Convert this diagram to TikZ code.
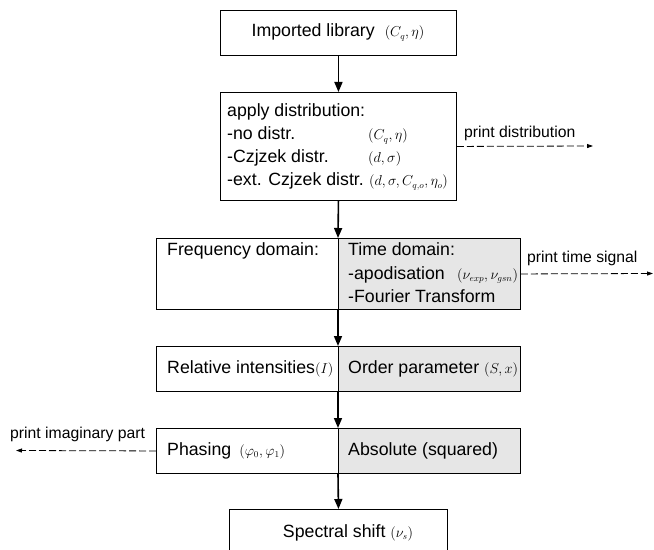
\documentclass[tikz,border=0pt]{standalone}
\usepackage{fontspec}
\setmainfont{Liberation Sans}
\usetikzlibrary{arrows.meta}
\definecolor{panelgray}{HTML}{E6E6E6}
\newcommand\mth[1]{{\fontsize{13.5}{16}\selectfont$#1$}}
\tikzset{
  box/.style={draw, line width=0.9bp, inner sep=0pt, anchor=north west},
  grayhalf/.style={box, fill=panelgray},
  txt/.style={inner sep=0pt, anchor=base west, font=\fontsize{17.8}{22}\selectfont},
  smalltxt/.style={inner sep=0pt, anchor=base west, font=\fontsize{15.8}{19}\selectfont},
  flow/.style={line width=1.6bp, -{Triangle[length=10bp,width=8bp]}},
  printarrow/.style={line width=0.8bp, dash pattern=on 7bp off 3bp, -{Triangle[length=6bp,width=4bp]}}
}
\begin{document}
\begin{tikzpicture}[x=1bp,y=-1bp]
\useasboundingbox (0,0) rectangle (654,550);
\clip (0,0) rectangle (654,550);
% boxes
\node[box, minimum width=236bp, minimum height=45bp] (lib) at (220,10) {};
\node[box, minimum width=236bp, minimum height=108bp] (dist) at (220,92) {};
\node[box, minimum width=182bp, minimum height=71bp] (freq) at (156,238) {};
\node[grayhalf, minimum width=182bp, minimum height=71bp] (time) at (338,238) {};
\node[box, minimum width=182bp, minimum height=45bp] (rel) at (156,346) {};
\node[grayhalf, minimum width=182bp, minimum height=45bp] (order) at (338,346) {};
\node[box, minimum width=182bp, minimum height=45bp] (phase) at (156,428) {};
\node[grayhalf, minimum width=182bp, minimum height=45bp] (abs) at (338,428) {};
\node[box, minimum width=218bp, minimum height=60bp] (shift) at (229,509) {};
% texts
\node[txt, anchor=base] (libtxt) at (338,37) {Imported library\hspace{10bp}\mth{(C_q,\eta)}};
\node[txt] (d0) at (227,117) {apply distribution:};
\node[txt] (d1) at (227,140) {-no distr.};
\node[txt] (d2) at (227,163) {-Czjzek distr.};
\node[txt] (d3) at (227,186) {-ext. Czjzek distr.};
\node[txt] (m1) at (368,140) {\mth{(C_q,\eta)}};
\node[txt] (m2) at (368,163) {\mth{(d,\sigma)}};
\node[txt] (m3) at (369,186) {\mth{(d,\sigma,C_{q,o},\eta_o)}};
\node[txt] (ft) at (167,256) {Frequency domain:};
\node[txt] (t0) at (348,256) {Time domain:};
\node[txt] (t1) at (348,279) {-apodisation};
\node[txt] (tm) at (457,279) {\mth{(\nu_{exp},\nu_{gsn})}};
\node[txt] (t2) at (348,302) {-Fourier Transform};
\node[txt] (rt) at (167,373) {Relative intensities\mth{(I)}};
\node[txt] (ot) at (348,373) {Order parameter \mth{(S,x)}};
\node[txt] (pt) at (167,455) {Phasing\hspace{8bp}\mth{(\varphi_0,\varphi_1)}};
\node[txt] (at) at (348,455) {Absolute (squared)};
\node[txt, anchor=base] (st) at (348,537) {Spectral shift \mth{(\nu_s)}};
% flow arrows
\draw[flow] (lib.south) -- (dist.north);
\draw[flow] (dist.south) -- (time.north west);
\draw[flow] (time.south west) -- (order.north west);
\draw[flow] (order.south west) -- (abs.north west);
\draw[flow] (abs.south west) -- (shift.north);
% print arrows
\coordinate (pd) at (593,146);
\coordinate (pts) at (653,273.5);
\coordinate (pim) at (16,450.5);
\draw[printarrow] (dist.east) -- (pd);
\draw[printarrow] (time.east) -- (pts);
\draw[printarrow] (phase.west) -- (pim);
\node[smalltxt] (pdt) at (464,138) {print distribution};
\node[smalltxt] (ptt) at (527,262) {print time signal};
\node[smalltxt] (pit) at (10,438) {print imaginary part};
\end{tikzpicture}
\end{document}
